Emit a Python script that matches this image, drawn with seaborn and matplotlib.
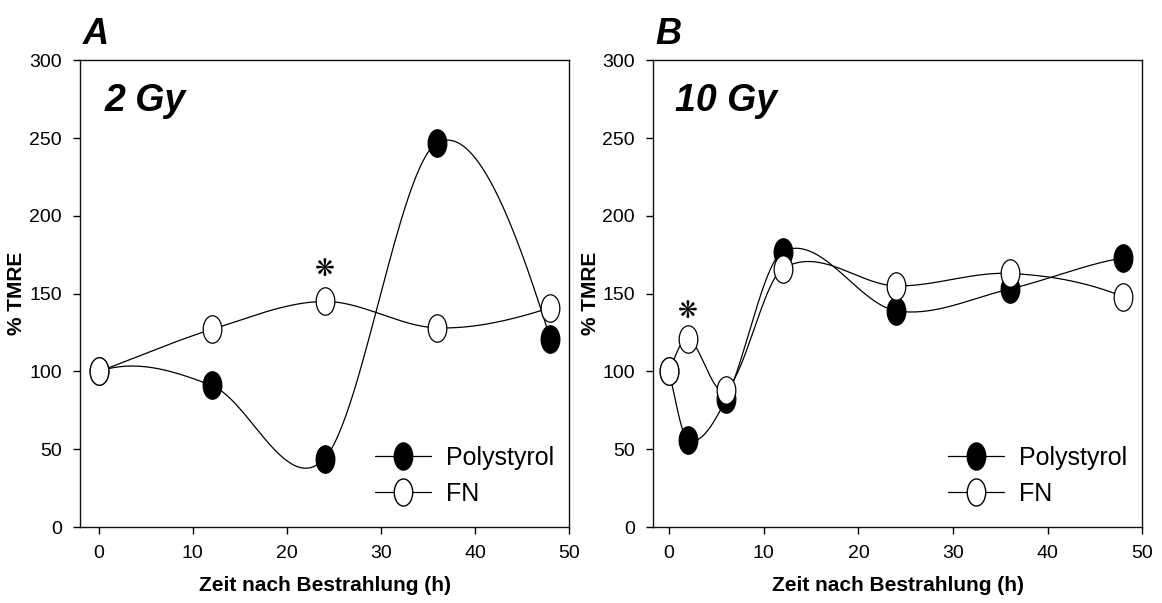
import numpy as np
import pandas as pd
import seaborn as sns
import matplotlib.pyplot as plt
from matplotlib.path import Path
from matplotlib.transforms import Affine2D
from matplotlib.lines import Line2D

# Panel A: 2 Gy
time_a = [0, 12, 24, 36, 48]
poly_a = [100, 91, 44, 247, 121]
fn_a = [100, 127, 145, 128, 141]

# Panel B: 10 Gy
time_b = [0, 2, 6, 12, 24, 36, 48]
poly_b = [100, 56, 82, 177, 139, 153, 173]
fn_b = [100, 121, 88, 166, 155, 163, 148]

star_a = (24, 166)
star_b = (2, 139)


def smooth(x, y, n=60):
    # Hermite curve through the measured points, only used to draw the line
    x = np.asarray(x, float)
    y = np.asarray(y, float)
    k = len(x)
    h = np.diff(x)
    d = np.diff(y) / h
    # natural spline second derivatives, for the end slopes
    A = np.zeros((k, k))
    r = np.zeros(k)
    A[0, 0] = A[-1, -1] = 1
    for i in range(1, k - 1):
        A[i, i - 1] = h[i - 1]
        A[i, i] = 2 * (h[i - 1] + h[i])
        A[i, i + 1] = h[i]
        r[i] = 6 * (d[i] - d[i - 1])
    M = np.linalg.solve(A, r)
    m = np.zeros(k)
    m[1:-1] = (y[2:] - y[:-2]) / (x[2:] - x[:-2])
    m[0] = d[0] - h[0] * M[1] / 6
    m[-1] = d[-1] + h[-1] * M[-2] / 6
    xs, ys = [], []
    for i in range(k - 1):
        t = np.linspace(0, 1, n)
        h00 = 2 * t**3 - 3 * t**2 + 1
        h10 = t**3 - 2 * t**2 + t
        h01 = -2 * t**3 + 3 * t**2
        h11 = t**3 - t**2
        xs.append(x[i] + t * h[i])
        ys.append(h00 * y[i] + h10 * h[i] * m[i] + h01 * y[i + 1]
                  + h11 * h[i] * m[i + 1])
    return np.concatenate(xs), np.concatenate(ys)


ellipse = Path.unit_circle().transformed(Affine2D().scale(0.68, 1.0))

sns.set_style('ticks')
plt.rcParams['font.family'] = ['Liberation Sans', 'DejaVu Sans']
plt.rcParams['text.color'] = 'black'
plt.rcParams['axes.labelcolor'] = 'black'
plt.rcParams['xtick.color'] = 'black'
plt.rcParams['ytick.color'] = 'black'

fig = plt.figure(figsize=(11.62, 6.03), dpi=100)
ax1 = fig.add_axes([0.0688, 0.126, 0.421, 0.774])
ax2 = fig.add_axes([0.562, 0.126, 0.421, 0.774])

panels = [
    (ax1, time_a, poly_a, fn_a, 'A', '2 Gy', star_a, -2.0),
    (ax2, time_b, poly_b, fn_b, 'B', '10 Gy', star_b, -1.7),
]

for ax, t, p, f, letter, dose, star, x0 in panels:
    for vals, face in [(p, 'black'), (f, 'white')]:
        xs, ys = smooth(t, vals)
        sns.lineplot(x=xs, y=ys, ax=ax, color='black', lw=0.9,
                     estimator=None, sort=False, legend=False)
        df = pd.DataFrame({'t': t, 'v': vals})
        sns.scatterplot(data=df, x='t', y='v', ax=ax, marker=ellipse, s=390,
                        color=face, edgecolor='black', linewidth=0.9,
                        zorder=3, legend=False)

    ax.set_xlim(x0, 50)
    ax.set_ylim(0, 300)
    ax.set_xticks(range(0, 51, 10))
    ax.set_yticks(range(0, 301, 50))
    ax.tick_params(labelsize=14, length=5, width=1, direction='out', pad=8)
    for s in ax.spines.values():
        s.set_visible(True)
        s.set_linewidth(1.0)
        s.set_color('#111111')
    ax.set_xlabel('Zeit nach Bestrahlung (h)', fontsize=15, fontweight='bold',
                  labelpad=10)
    ax.set_ylabel('% TMRE', fontsize=15, fontweight='bold', labelpad=2)

    ax.text(0.6, 274, dose, fontsize=27, fontweight='bold', style='italic',
            va='center', ha='left')
    ax.text(0.005, 1.018, letter, transform=ax.transAxes, fontsize=26,
            fontweight='bold', style='italic', va='bottom', ha='left')
    ax.text(star[0], star[1], '\u274b', fontsize=17, ha='center', va='center',
            family=['DejaVu Sans'])

    handles = [
        Line2D([], [], color='black', lw=0.9, marker=ellipse, markersize=19.5,
               markerfacecolor='black', markeredgecolor='black'),
        Line2D([], [], color='black', lw=0.9, marker=ellipse, markersize=19.5,
               markerfacecolor='white', markeredgecolor='black'),
    ]
    ax.legend(handles, ['Polystyrol', 'FN'], loc='lower left',
              bbox_to_anchor=(0.603, 0.045), frameon=False, fontsize=18,
              handlelength=2.25, handletextpad=0.6, labelspacing=0.5,
              borderaxespad=0, borderpad=0)

fig.savefig('out.png', dpi=100)
